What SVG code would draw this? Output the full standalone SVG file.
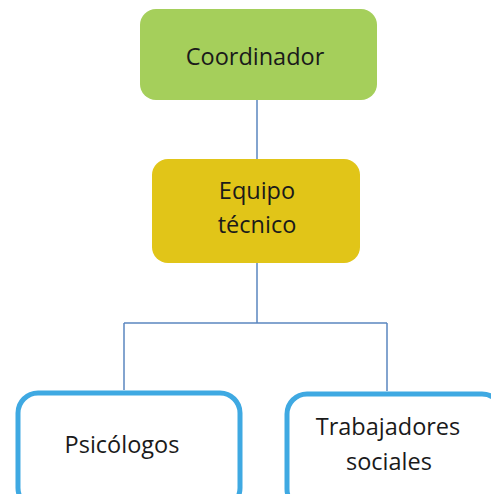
<svg xmlns="http://www.w3.org/2000/svg" width="491" height="494" viewBox="0 0 491 494">
<style>
.t{font-family:"Open Sans","Liberation Sans",sans-serif;font-size:23.5px;fill:#1a1a1a;text-anchor:middle}
.c{stroke:#5b86c0;stroke-width:1.5;fill:none}
.b{fill:#fff;stroke:#3fa9e2;stroke-width:5}
</style>
<rect width="491" height="494" fill="#fff"/>
<g id="connectors">
<path class="c" d="M257 100V160M257 263V323M124 323H387M124 323V390M387 323V391"/>
</g>
<g id="coordinador">
<rect x="140" y="9" width="237" height="91" rx="16" fill="#a5cf5b"/>
<text class="t" x="255" y="65">Coordinador</text>
</g>
<g id="equipo">
<rect x="152" y="159" width="208" height="104" rx="16" fill="#e1c518"/>
<text class="t" x="257" y="199">Equipo</text>
<text class="t" x="257" y="233">técnico</text>
</g>
<g id="psicologos">
<rect x="18" y="393" width="222" height="115" rx="20" class="b"/>
<text class="t" x="122" y="453">Psicólogos</text>
</g>
<g id="trabajadores">
<rect x="287" y="394" width="215" height="115" rx="20" class="b"/>
<text class="t" x="388" y="435">Trabajadores</text>
<text class="t" x="389" y="470">sociales</text>
</g>
</svg>
